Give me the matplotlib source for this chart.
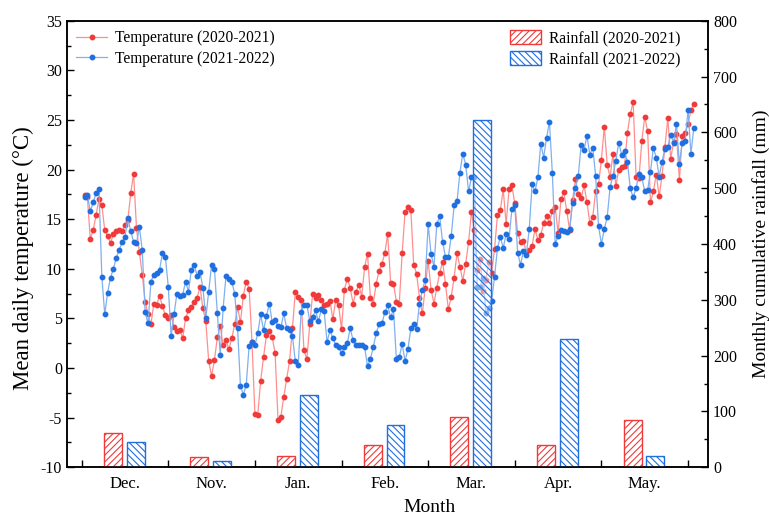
import matplotlib
matplotlib.use("Agg")
import matplotlib.pyplot as plt
import numpy as np

# monthly rainfall (mm)
months = ["Dec.", "Nov.", "Jan.", "Feb.", "Mar.", "Apr.", "May."]
rain_2020 = [62, 19, 20, 39, 90, 40, 85]
rain_2021 = [45, 11, 130, 76, 622, 229, 20]

# mean daily temperature (°C), one value per day
temp_2020 = [
    17.4, 17.2, 13.0, 13.9, 15.4, 17.0, 16.4, 13.9, 13.3, 12.6, 13.5, 13.8, 13.9, 13.8, 14.4,
    14.9, 17.6, 19.6, 14.1, 11.7, 9.4, 6.7, 5.4, 4.4, 6.5, 6.4, 7.3, 6.2, 5.3, 5.0,
    5.3, 4.1, 3.7, 3.8, 3.0, 5.0, 5.8, 6.1, 6.7, 7.1, 8.2, 6.0, 4.7, 0.7, -0.8,
    0.8, 3.1, 4.2, 2.3, 2.8, 1.9, 3.0, 4.4, 6.1, 4.6, 7.3, 8.7, 8.0, 2.6, -4.6,
    -4.7, -1.3, 1.1, 3.3, 3.7, 3.1, 1.5, -5.2, -4.9, -2.9, -1.1, 0.7, 4.0, 7.7, 7.2,
    6.9, 1.8, 0.9, 4.4, 7.5, 7.1, 7.4, 6.9, 6.3, 6.5, 6.8, 4.9, 6.9, 6.3, 3.9, 7.9,
    9.0, 8.1, 6.5, 7.7, 8.4, 7.2, 10.2, 11.5, 7.1, 6.5, 8.5, 9.8, 10.5, 11.6, 13.5,
    8.6, 8.5, 6.7, 6.5, 11.6, 15.7, 16.2, 15.9, 10.4, 9.5, 7.1, 5.5, 8.1, 10.8,
    7.9, 6.5, 8.1, 9.6, 10.7, 8.5, 5.9, 7.2, 9.1, 11.6, 10.2, 8.8, 10.5, 12.7, 15.7,
    13.9, 9.9, 11.0, 7.8, 8.9, 10.7, 9.6, 12.0, 15.4, 15.9, 18.0, 14.5, 18.0, 18.4, 16.6,
    13.6, 12.7,
    12.8, 11.7, 11.9, 12.3, 14.0, 12.9, 13.4, 14.6, 15.3, 14.6, 15.8, 16.2, 13.6, 17.0, 17.7,
    15.8, 13.9, 16.9, 19.0, 17.5, 17.1, 18.4, 16.7, 14.6, 15.2, 17.8, 18.5, 21.0, 24.3, 20.5,
    19.2,
    21.6, 18.3, 20.0, 20.3, 20.4, 23.7, 25.6, 26.8, 19.3, 19.1, 22.9, 25.3, 23.9, 16.7, 17.8,
    19.5, 17.3, 19.4, 22.3, 25.2, 21.1, 22.8, 23.6, 18.9, 23.4, 23.7, 24.6, 26.0, 26.6,
]
temp_2021 = [
    17.2, 17.4, 15.8, 16.7, 17.6, 18.0, 9.2, 5.4, 7.6, 9.1, 10.0, 11.1, 11.9, 12.7, 13.2,
    15.1, 13.8, 12.7, 12.6, 14.2, 11.9, 5.6, 4.5, 8.7, 9.4, 9.6, 9.9, 11.6, 11.2, 8.2,
    3.2, 5.4, 7.5, 7.3, 7.4, 8.7, 7.7, 9.9, 10.4, 9.3, 9.7, 8.1, 5.0, 7.7, 10.4,
    10.0, 5.5, 1.3, 6.0, 9.3, 9.0, 8.7, 7.5, 4.0, -1.8, -2.7, -1.7, 2.2, 2.6, 2.3,
    3.5, 5.4, 3.8, 5.2, 6.5, 4.6, 4.8, 4.2, 4.1, 5.5, 4.0, 3.8, 3.2, 0.7, 0.3,
    5.6, 6.4, 6.4, 4.7, 5.1, 5.8, 4.7, 5.9, 5.7, 2.6, 3.8, 3.0, 2.3, 2.1, 1.5, 2.1,
    2.5, 4.0, 2.8, 2.3, 2.3, 2.3, 2.1, 0.2, 0.9, 2.1, 3.5, 4.4, 4.5, 5.6, 6.3,
    5.1, 5.9, 0.9, 1.1, 2.4, 0.7, 1.9, 4.0, 4.4, 3.9, 6.5, 7.9, 8.9, 14.5,
    11.5, 10.2, 14.5, 15.3, 12.7, 11.2, 11.2, 13.3, 16.4, 16.8, 19.7, 21.6, 20.5, 17.8, 19.2,
    19.2, 8.2, 8.2, 9.1, 5.5, 6.0, 6.8, 9.2, 12.1, 13.2, 12.1, 13.5, 13.0, 16.0, 16.4,
    11.6, 10.4,
    11.8, 11.4, 14.0, 18.5, 17.8, 19.2, 22.6, 21.2, 23.2, 24.8, 19.7, 12.5, 13.3, 13.9, 13.8,
    13.7, 14.0, 16.6, 18.1, 19.4, 22.5, 22.0, 23.4, 21.5, 22.2, 19.4, 14.3, 12.5, 14.0, 15.2,
    18.2,
    19.4, 20.9, 22.7, 21.5, 21.9, 20.8, 18.1, 17.2, 18.1, 19.6, 19.2, 17.8, 17.9, 19.8, 22.2,
    21.2, 19.3, 20.8, 22.1, 22.3, 23.5, 22.7, 24.6, 20.6, 22.7, 22.9, 26.0, 21.6, 24.2,
]

plt.rcParams["font.family"] = ["Liberation Serif", "DejaVu Serif"]
plt.rcParams["hatch.linewidth"] = 0.8
plt.rcParams["axes.unicode_minus"] = False  # plain hyphen on "-10", "-5"

RED = "#f03a3a"
RED_LINE = "#ff8f8f"
BLUE = "#1f6fe0"
BLUE_LINE = "#7fb0f0"

fig = plt.figure(figsize=(7.69, 5.18), dpi=100)
ax = fig.add_axes([0.087, 0.098, 0.834, 0.862])
ax2 = ax.twinx()

days = np.arange(len(temp_2020))
ax.plot(days, temp_2020, color=RED_LINE, lw=0.9, marker="o", ms=3.2,
        mfc=RED, mec=RED, label="Temperature (2020-2021)")
ax.plot(days, temp_2021, color=BLUE_LINE, lw=0.9, marker="o", ms=3.2,
        mfc=BLUE, mec=BLUE, label="Temperature (2021-2022)")

month_mid = np.arange(len(months)) * 30 + 14
ax2.bar(month_mid - 4.2, rain_2020, width=6.2, facecolor=(1, 1, 1, 0.45),
        edgecolor=RED, hatch="/////", lw=1.0, label="Rainfall (2020-2021)")
ax2.bar(month_mid + 3.7, rain_2021, width=6.2, facecolor=(1, 1, 1, 0.45),
        edgecolor=BLUE, hatch="\\\\\\\\\\", lw=1.0, label="Rainfall (2021-2022)")

ax.set_xlim(-6.1, 216)
ax.set_ylim(-10, 35)
ax2.set_ylim(0, 800)

# tick marks on month boundaries, labels in the middle of each month
month_edges = np.arange(len(months) + 1) * 30 - 1
ax.set_xticks(month_edges)
ax.set_xticklabels([])
ax.set_xticks(month_mid, minor=True)
ax.set_xticklabels(months, minor=True)
ax.tick_params(axis="x", which="major", direction="in", length=5, width=1.0, top=False)
ax.tick_params(axis="x", which="minor", length=0, labelsize=12, pad=6)

ax.set_yticks(np.arange(-10, 36, 5))
ax.set_yticks(np.arange(-7.5, 35, 5), minor=True)
ax.tick_params(axis="y", which="major", direction="in", length=5, width=1.0, labelsize=11.5)
ax.tick_params(axis="y", which="minor", direction="in", length=3, width=1.0)

ax2.set_yticks(np.arange(0, 801, 100))
ax2.set_yticks(np.arange(50, 800, 100), minor=True)
ax2.tick_params(axis="y", which="major", direction="in", length=5, width=1.0, labelsize=11.5)
ax2.tick_params(axis="y", which="minor", direction="in", length=3, width=1.0)

for a in (ax, ax2):
    for s in a.spines.values():
        s.set_linewidth(1.1)

ax.set_xlabel("Month", fontsize=14)
ax.xaxis.set_label_coords(0.566, -0.072)
ax.set_ylabel("Mean daily temperature (°C)", fontsize=16.5)
ax.yaxis.set_label_coords(-0.052, 0.469)
ax2.set_ylabel("Monthly cumulative rainfall (mm)", fontsize=14)
ax2.yaxis.set_label_coords(1.0686, 0.5)

ax.legend(loc="upper left", frameon=False, fontsize=11.2, handlelength=2.0,
          handletextpad=0.5, labelspacing=0.3, borderaxespad=0.2)
ax2.legend(loc="upper right", bbox_to_anchor=(0.971, 1.0), frameon=False, fontsize=11.2,
           handlelength=2.0, handleheight=1.0, handletextpad=0.5, labelspacing=0.3,
           borderaxespad=0.2)

fig.savefig("out.png", dpi=100)
